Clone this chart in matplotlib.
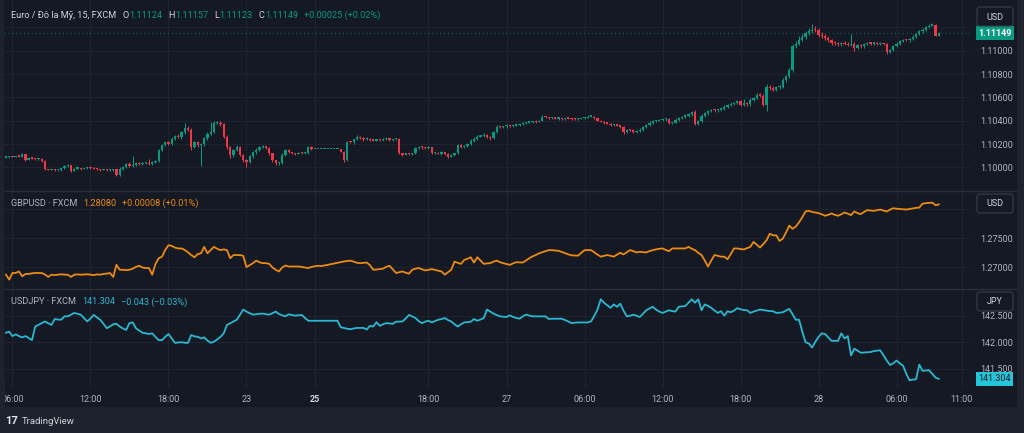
import numpy as np
import matplotlib.pyplot as plt
from matplotlib.patches import Rectangle, FancyBboxPatch
from matplotlib.transforms import blended_transform_factory

plt.rcParams['font.family'] = ['Roboto', 'DejaVu Sans']

W, H = 1024, 433
BG = '#151924'
OUTER = '#1e222d'
GRID = '#1f2330'
TXT = '#b2b5be'
GREEN = '#089981'
RED = '#f23645'
ORANGE = '#ec8a13'
CYAN = '#2ab8d0'

# EURUSD 15m closes, in points (1e-5) above 1.10000
eur_pts = [
    88, 95, 92, 97, 93, 113, 66, 80, 76, 70, 74, 58,
    -15, -20, -18, -24, -22, -8, 10, 21, -27, -10, -6, -12,
    -8, 0, -4, -12, -14, -20, -18, -24, -22, -16, -64, -12,
    7, 30, 10, 22, 36, 30, 38, 42, 28, 46, 55, 150,
    195, 215, 205, 245, 270, 262, 300, 336, 320, 178, 215, 190,
    200, 250, 285, 307, 379, 385, 370, 264, 178, 107, 150, 178,
    110, 64, 50, 95, 130, 150, 175, 182, 170, 122, 60, 36,
    40, 110, 150, 130, 122, 118, 125, 120, 124, 178, 159, 159,
    159, 159, 159, 159, 159, 159, 159, 136, 64, 221, 215, 240,
    262, 255, 240, 248, 235, 230, 238, 232, 245, 250, 236, 240,
    245, 122, 110, 118, 112, 120, 165, 178, 172, 168, 175, 122,
    125, 118, 130, 115, 93, 110, 120, 193, 175, 185, 200, 230,
    245, 264, 270, 280, 265, 250, 300, 350, 345, 352, 360, 355,
    358, 362, 370, 380, 385, 390, 395, 392, 400, 436, 430, 420,
    425, 418, 422, 415, 420, 418, 414, 412, 416, 420, 425, 436,
    436, 420, 400, 392, 380, 375, 365, 370, 358, 350, 302, 320,
    318, 305, 310, 325, 345, 365, 385, 395, 400, 408, 412, 414,
    379, 385, 410, 425, 436, 440, 455, 479, 373, 400, 440, 465,
    480, 493, 488, 495, 505, 520, 535, 545, 555, 565, 536, 548,
    540, 580, 595, 622, 615, 536, 693, 680, 665, 685, 690, 750,
    779, 836, 1036, 1060, 1094, 1120, 1150, 1165, 1180, 1175, 1137, 1125,
    1110, 1090, 1066, 1062, 1055, 1066, 1058, 1051, 1060, 1023, 1045, 1037,
    1055, 1066, 1060, 1066, 1058, 1062, 1055, 988, 1010, 1040, 1060, 1080,
    1094, 1090, 1100, 1120, 1140, 1165, 1180, 1200, 1215, 1223, 1124, 1149,
]
eur_first_open = 1.10085

# upper / lower wick lengths in points
eur_up = [
    5, 4, 6, 3, 5, 8, 4, 6, 3, 5, 4, 6,
    4, 3, 5, 4, 3, 6, 8, 5, 4, 6, 3, 5,
    4, 6, 3, 5, 4, 3, 5, 4, 6, 3, 5, 12,
    10, 8, 20, 80, 12, 8, 10, 6, 30, 8, 10, 12,
    10, 15, 8, 20, 12, 15, 10, 43, 15, 20, 12, 10,
    8, 12, 20, 86, 16, 12, 15, 10, 12, 8, 10, 12,
    10, 8, 6, 12, 10, 15, 8, 10, 6, 8, 5, 6,
    5, 10, 8, 6, 5, 4, 6, 5, 8, 10, 5, 2,
    1, 1, 1, 1, 1, 1, 1, 3, 5, 8, 10, 6,
    12, 8, 6, 10, 5, 8, 6, 10, 6, 8, 5, 6,
    8, 4, 6, 5, 8, 6, 10, 8, 6, 5, 8, 4,
    6, 5, 8, 4, 6, 5, 8, 10, 12, 8, 10, 15,
    12, 10, 8, 12, 10, 8, 15, 10, 8, 6, 10, 8,
    6, 8, 5, 6, 8, 10, 6, 8, 10, 12, 8, 6,
    5, 6, 4, 5, 6, 4, 5, 6, 4, 5, 6, 10,
    8, 6, 5, 8, 6, 5, 4, 6, 5, 8, 6, 8,
    6, 8, 10, 12, 10, 8, 10, 12, 8, 10, 6, 8,
    10, 8, 12, 10, 8, 15, 10, 8, 12, 10, 15, 12,
    10, 8, 12, 10, 8, 12, 10, 15, 8, 12, 10, 40,
    12, 15, 10, 20, 15, 12, 25, 15, 20, 12, 15, 20,
    15, 20, 25, 20, 30, 25, 20, 25, 51, 30, 20, 25,
    20, 15, 12, 15, 10, 12, 15, 20, 85, 15, 12, 10,
    12, 10, 8, 12, 10, 8, 6, 10, 8, 12, 10, 8,
    10, 8, 6, 10, 8, 12, 10, 8, 10, 12, 8, 8,
]
eur_dn = [
    4, 5, 3, 6, 4, 5, 8, 4, 6, 5, 4, 8,
    6, 5, 4, 6, 5, 4, 5, 3, 8, 5, 4, 6,
    5, 3, 6, 4, 5, 6, 4, 5, 3, 6, 9, 5,
    6, 8, 10, 6, 8, 10, 6, 8, 10, 6, 8, 10,
    12, 10, 15, 10, 12, 10, 15, 12, 10, 28, 15, 12,
    175, 12, 15, 10, 12, 10, 15, 12, 20, 25, 15, 12,
    15, 20, 43, 15, 10, 12, 8, 10, 12, 15, 10, 12,
    15, 10, 8, 10, 6, 8, 5, 6, 8, 5, 6, 2,
    1, 1, 1, 1, 1, 1, 1, 6, 14, 6, 8, 10,
    6, 8, 10, 6, 8, 5, 6, 8, 5, 6, 8, 6,
    5, 10, 8, 6, 8, 5, 6, 8, 10, 6, 8, 10,
    8, 6, 8, 10, 10, 6, 8, 6, 10, 8, 6, 10,
    8, 10, 6, 8, 12, 15, 10, 8, 6, 8, 10, 6,
    8, 6, 5, 6, 8, 5, 6, 8, 6, 5, 8, 6,
    5, 6, 8, 5, 6, 4, 5, 6, 8, 5, 6, 5,
    6, 8, 6, 5, 8, 6, 10, 8, 6, 8, 12, 10,
    8, 10, 6, 8, 10, 8, 6, 10, 8, 6, 8, 10,
    8, 10, 6, 8, 10, 8, 12, 10, 8, 12, 10, 8,
    12, 8, 10, 12, 8, 10, 8, 12, 10, 8, 12, 10,
    10, 12, 8, 10, 12, 10, 49, 15, 12, 10, 15, 12,
    15, 12, 20, 15, 12, 15, 20, 15, 12, 15, 20, 15,
    15, 12, 15, 10, 12, 15, 10, 12, 15, 30, 12, 10,
    12, 10, 8, 10, 12, 8, 10, 15, 12, 10, 8, 10,
    8, 10, 12, 8, 10, 8, 10, 8, 10, 8, 0, 1,
]

# GBPUSD closes, points (1e-5) above 1.27000
gbp_pts = [
    -123, -207, -94, -94, -67, -151, -110, -110, -100, -94, -94, -94,
    -120, -161, -123, -130, -123, -115, -123, -123, -161, -123, -118, -123,
    -120, -115, -123, -130, -118, -123, -110, -105, -94, -161, 45, -39,
    -39, -45, -39, -20, 10, 29, 0, -10, -10, -123, 60, 158,
    185, 300, 381, 370, 340, 326, 326, 300, 260, 213, 175, 230,
    242, 353, 242, 300, 353, 320, 297, 310, 297, 158, 213, 213,
    213, 200, 7, 40, 74, 118, 90, 74, 74, 63, 0, -40,
    -67, 0, 34, 17, 17, 17, 17, 10, 0, -10, 10, 20,
    30, 25, 35, 45, 57, 68, 80, 92, 104, 110, 118, 100,
    80, 74, 80, 85, 40, -39, -35, -28, -20, 10, 29, -30,
    -94, -80, -67, -90, -106, -39, -20, -10, -30, -50, -40, -28,
    -40, -55, -67, -123, -80, -39, 101, 80, 62, 129, 150, 175,
    84, 175, 120, 62, 70, 74, 100, 118, 90, 74, 60, 45,
    70, 90, 88, 85, 120, 158, 190, 213, 242, 260, 280, 297,
    297, 290, 286, 265, 242, 225, 208, 205, 202, 250, 297, 297,
    297, 260, 220, 185, 200, 213, 200, 185, 220, 252, 224, 260,
    297, 280, 258, 269, 262, 258, 280, 297, 310, 320, 326, 300,
    280, 326, 326, 326, 326, 326, 353, 320, 297, 250, 213, 120,
    17, 120, 213, 200, 185, 185, 141, 230, 326, 326, 315, 309,
    330, 353, 437, 390, 342, 400, 465, 578, 550, 550, 454, 493,
    600, 717, 661, 700, 773, 860, 958, 969, 950, 940, 930, 910,
    885, 900, 924, 900, 885, 910, 941, 920, 896, 958, 930, 913,
    950, 980, 975, 969, 980, 991, 975, 958, 990, 1014, 1005, 1000,
    995, 991, 1000, 1010, 1020, 1025, 1092, 1100, 1105, 1109, 1064, 1080,
]

# USDJPY closes, in 0.001 above 141.000
jpy_pts = [
    1180, 1200, 1116, 1149, 1116, 1091, 1116, 1080, 1039, 1297, 1330, 1362,
    1394, 1360, 1329, 1440, 1430, 1426, 1490, 1490, 1520, 1556, 1540, 1523,
    1460, 1394, 1450, 1517, 1470, 1426, 1350, 1265, 1300, 1340, 1349, 1297,
    1260, 1233, 1362, 1375, 1265, 1220, 1180, 1170, 1155, 1168, 1100, 1039,
    1039, 1100, 1155, 1070, 987, 995, 1000, 990, 987, 1136, 1110, 1103,
    1071, 1091, 1030, 987, 1010, 1052, 1100, 1168, 1329, 1360, 1394, 1426,
    1520, 1620, 1580, 1550, 1523, 1530, 1540, 1543, 1530, 1523, 1550, 1581,
    1536, 1510, 1490, 1530, 1515, 1504, 1510, 1517, 1460, 1407, 1407, 1407,
    1407, 1407, 1407, 1407, 1407, 1407, 1407, 1284, 1270, 1255, 1246, 1260,
    1271, 1271, 1271, 1240, 1310, 1297, 1381, 1310, 1340, 1362, 1355, 1349,
    1388, 1390, 1394, 1450, 1517, 1490, 1459, 1400, 1362, 1390, 1407, 1375,
    1400, 1426, 1440, 1459, 1420, 1394, 1340, 1297, 1340, 1375, 1380, 1388,
    1440, 1407, 1430, 1459, 1620, 1580, 1543, 1515, 1490, 1485, 1478, 1510,
    1480, 1460, 1446, 1490, 1523, 1505, 1490, 1490, 1490, 1490, 1490, 1440,
    1445, 1446, 1446, 1446, 1420, 1394, 1362, 1370, 1375, 1375, 1375, 1375,
    1394, 1500, 1620, 1814, 1749, 1700, 1652, 1717, 1672, 1730, 1600, 1490,
    1500, 1523, 1500, 1478, 1540, 1607, 1640, 1672, 1620, 1580, 1556, 1580,
    1607, 1590, 1581, 1672, 1680, 1685, 1750, 1814, 1749, 1814, 1607, 1717,
    1690, 1652, 1600, 1556, 1588, 1504, 1588, 1568, 1600, 1646, 1625, 1610,
    1607, 1556, 1580, 1600, 1620, 1610, 1600, 1590, 1588, 1556, 1560, 1568,
    1600, 1633, 1530, 1426, 1426, 1200, 1000, 975, 897, 1006, 1100, 1168,
    1155, 1090, 1026, 1026, 1026, 1168, 1071, 1116, 748, 877, 840, 800,
    805, 810, 813, 830, 840, 845, 750, 651, 567, 600, 651, 600,
    554, 400, 277, 290, 296, 574, 458, 465, 470, 400, 328, 304,
]

tick_bars = [2, 26, 50, 74, 95, 130, 154, 178, 202, 226, 250, 274, 294]
tick_labels = ['06:00', '12:00', '18:00', '23', '25', '18:00', '27',
               '06:00', '12:00', '18:00', '28', '06:00', '11:00']

eur_ticks = [1.100, 1.102, 1.104, 1.106, 1.108, 1.110, 1.112]
gbp_ticks = [1.270, 1.275, 1.280]
jpy_ticks = [141.5, 142.0, 142.5]

N = len(eur_pts)
for arr in (eur_up, eur_dn, gbp_pts, jpy_pts):
    assert len(arr) == N, len(arr)

close = 1.1 + np.array(eur_pts) * 1e-5
opn = np.r_[eur_first_open, close[:-1]]
high = np.maximum(opn, close) + np.array(eur_up) * 1e-5
low = np.minimum(opn, close) - np.array(eur_dn) * 1e-5
gbp = 1.27 + np.array(gbp_pts) * 1e-5
jpy = 141.0 + np.array(jpy_pts) * 1e-3
x = np.arange(N)

fig = plt.figure(figsize=(W / 100, H / 100), dpi=100, facecolor=OUTER)

bg = fig.add_axes([0, 0, 1, 1], zorder=-10)
bg.set_xlim(0, W)
bg.set_ylim(H, 0)
bg.axis('off')
bg.add_patch(Rectangle((4, 0), 1013, 407, fc=BG, ec='none'))


def panel(top, bottom):
    ax = fig.add_axes([4 / W, 1 - bottom / H, 966 / W, (bottom - top) / H])
    ax.set_facecolor(BG)
    for s in ax.spines.values():
        s.set_visible(False)
    ax.set_xlim(-0.6, 296.6)
    ax.set_xticks(tick_bars)
    ax.grid(True, color=GRID, lw=0.8)
    ax.set_axisbelow(True)
    ax.yaxis.tick_right()
    ax.tick_params(axis='y', length=0, pad=7.2, labelsize=6.5, labelcolor=TXT)
    ax.tick_params(axis='x', length=0, labelbottom=False)
    return ax


ax1 = panel(0, 190.5)
ax2 = panel(190.5, 288.5)
ax3 = panel(288.5, 388)

# candles
up = close >= opn
cols = np.where(up, GREEN, RED)
px = 0.0000856
ax1.vlines(x, low, high, colors=cols, lw=0.75)
ax1.bar(x, np.maximum(np.abs(close - opn), 1.2 * px), bottom=np.minimum(opn, close),
        width=0.74, color=cols, lw=0)
ax1.set_ylim(1.1 - 23 * px, 1.1 + 167.5 * px)
ax1.set_yticks(eur_ticks)
ax1.set_yticklabels([f'{v:.5f}' if v < 1.1115 else '' for v in eur_ticks])
ax1.axhline(close[-1], color=GREEN, lw=0.8, ls=(0, (1, 2.5)), alpha=0.55)

ax2.plot(x, gbp, color=ORANGE, lw=1.3)
ax2.set_ylim(1.27 - 21 * 0.000171, 1.27 + 77 * 0.000171)
ax2.set_yticks(gbp_ticks)
ax2.set_yticklabels(['1.27000', '1.27500', ''])

ax3.plot(x, jpy, color=CYAN, lw=1.3)
ax3.set_ylim(142.0 - 45.8 * 0.018975, 142.0 + 53.7 * 0.018975)
ax3.set_yticks(jpy_ticks)
ax3.set_yticklabels([f'{v:.3f}' for v in jpy_ticks])
ax3.tick_params(axis='x', labelbottom=True, labelsize=6.5, labelcolor=TXT, pad=5)
ax3.set_xticklabels(tick_labels)
lab = ax3.get_xticklabels()[4]
lab.set_fontweight('bold')
lab.set_color('#d1d4dc')

# last price tags
tx = 1.0088
t1 = blended_transform_factory(ax1.transAxes, ax1.transData)
ax1.text(tx, close[-1], f'{close[-1]:.5f}', transform=t1, ha='left', va='center',
         fontsize=6.5, color='white', fontweight='bold', clip_on=False,
         bbox=dict(boxstyle='square,pad=0.26', fc=GREEN, ec='none'))
t3 = blended_transform_factory(ax3.transAxes, ax3.transData)
ax3.text(tx, jpy[-1], f'{jpy[-1]:.3f}', transform=t3, ha='left', va='center',
         fontsize=6.5, color='#131722', clip_on=False,
         bbox=dict(boxstyle='square,pad=0.26', fc='#26c6da', ec='none'))

# overlay in pixel coordinates
top = fig.add_axes([0, 0, 1, 1], zorder=10)
top.set_xlim(0, W)
top.set_ylim(H, 0)
top.axis('off')
top.patch.set_alpha(0)
top.hlines([190.5, 288.5], 4, 1017, color='#2a2e39', lw=1.0)
top.add_patch(Rectangle((0, 380), 4.5, 30, fc=OUTER, ec='none'))

for (bx, by, s) in [(977, 7, 'USD'), (977, 194, 'USD'), (977, 292, 'JPY')]:
    top.add_patch(FancyBboxPatch((bx, by), 36, 19, boxstyle='round,pad=0,rounding_size=3',
                                 fc=BG, ec='#363a45', lw=0.9))
    top.text(bx + 18, by + 10, s, ha='center', va='center', fontsize=6.5, color='#d1d4dc')

rend = fig.canvas.get_renderer()


def label_row(xp, yp, parts, size=6.6):
    for s, col, gap in parts:
        t = top.text(xp, yp, s, color=col, fontsize=size, ha='left', va='center')
        xp += t.get_window_extent(renderer=rend).width + gap


label_row(11, 15, [('Euro / Đô la Mỹ, 15, FXCM', '#d1d4dc', 6),
                   ('O', '#d1d4dc', 0.5), ('1.11124', GREEN, 6),
                   ('H', '#d1d4dc', 0.5), ('1.11157', GREEN, 6),
                   ('L', '#d1d4dc', 0.5), ('1.11123', GREEN, 6),
                   ('C', '#d1d4dc', 0.5), ('1.11149', GREEN, 6),
                   ('+0.00025 (+0.02%)', GREEN, 0)])
label_row(11, 203, [('GBPUSD · FXCM', TXT, 6), ('1.28080', ORANGE, 6),
                    ('+0.00008 (+0.01%)', ORANGE, 0)])
label_row(11, 302, [('USDJPY · FXCM', TXT, 6), ('141.304', CYAN, 6),
                    ('−0.043 (−0.03%)', CYAN, 0)])

top.text(5, 421, '17', fontsize=8, fontweight='bold', color='#e0e3eb', ha='left', va='center')
top.text(22, 421, 'TradingView', fontsize=6.8, color='#d1d4dc', ha='left', va='center')

fig.savefig('out.png', dpi=100, facecolor=OUTER)
